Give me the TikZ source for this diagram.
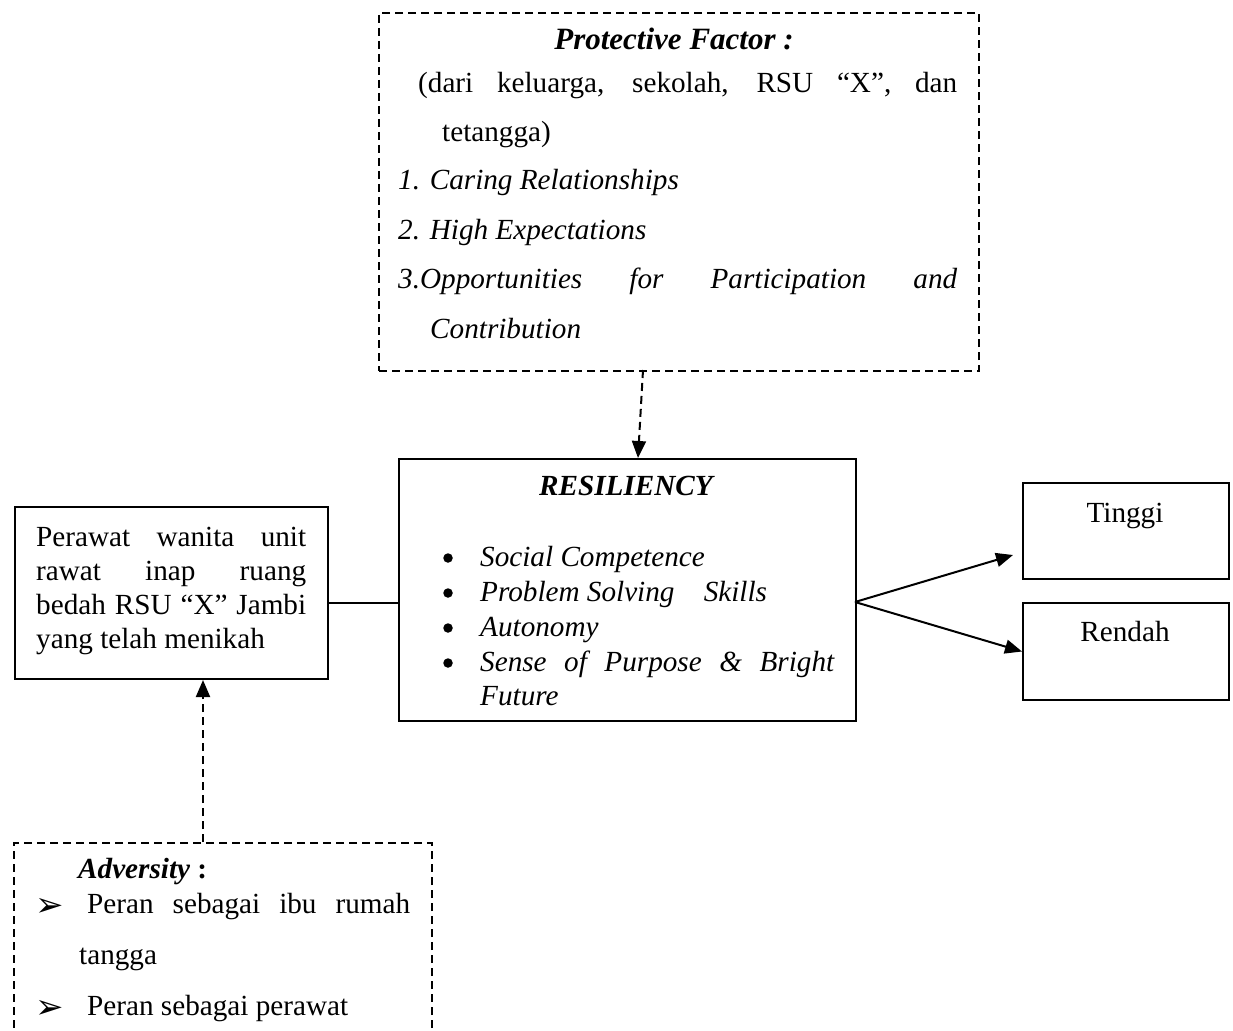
\documentclass[tikz,border=0pt]{standalone}
\usepackage{fontspec}
\setmainfont{Liberation Serif}
\newfontfamily\dejavu{DejaVu Sans}
\usetikzlibrary{arrows.meta}
\tikzset{
  box/.style={draw, line width=2pt, rectangle, inner sep=0pt, anchor=north west},
  dashbox/.style={box, dash pattern=on 8pt off 5pt},
  txt/.style={anchor=base west, inner sep=0pt, font=\fontsize{29.2}{34}\selectfont},
  bul/.style={circle, fill, inner sep=0pt, minimum size=9.5pt},
  conn/.style={line width=2pt},
  tip/.style={-{Triangle[length=17pt,width=14pt]}},
  dconn/.style={conn, tip, dash pattern=on 8pt off 5pt}
}
\begin{document}
\begin{tikzpicture}[x=1pt,y=-1pt]
\useasboundingbox (0,0) rectangle (1233,1030);
\clip (0,0) rectangle (1233,1030);
% boxes
\node[dashbox, minimum width=600, minimum height=358] (prot) at (378,12) {};
\node[box, minimum width=457, minimum height=262] (res) at (398,458) {};
\node[box, minimum width=313, minimum height=172] (subj) at (14,506) {};
\node[box, minimum width=206, minimum height=96] (tinggi) at (1022,482) {};
\node[box, minimum width=206, minimum height=97] (rendah) at (1022,602) {};
\node[dashbox, minimum width=418, minimum height=300] (adv) at (13,842) {};
% protective text
\node[txt, anchor=base] (pt) at (674,50) {\fontsize{31}{36}\selectfont\bfseries\itshape Protective Factor :};
\node[txt] (p1) at (418,93) {\makebox[539pt][s]{(dari keluarga, sekolah, RSU “X”, dan}};
\node[txt] (p2) at (442,141) {tetangga)};
\node[txt] (p3) at (398,189) {\itshape 1. Caring Relationships};
\node[txt] (p4) at (398,239) {\itshape 2. High Expectations};
\node[txt] (p5) at (398,288) {\itshape\makebox[559pt][s]{3.Opportunities for Participation and}};
\node[txt] (p6) at (430,338) {\itshape Contribution};
% resiliency text
\node[txt, anchor=base] (rt) at (626,495) {\bfseries\itshape RESILIENCY};
\node[bul] (r1) at (448,558) {};
\node[txt] (r1t) at (480,566) {\itshape Social Competence};
\node[bul] (r2) at (448,593) {};
\node[txt] (r2t) at (480,601) {\itshape Problem Solving\hspace{0.75em} Skills};
\node[bul] (r3) at (448,628) {};
\node[txt] (r3t) at (480,636) {\itshape Autonomy};
\node[bul] (r4) at (448,663) {};
\node[txt] (r4t) at (480,671) {\itshape\makebox[354pt][s]{Sense of Purpose \& Bright}};
\node[txt] (r5t) at (480,705) {\itshape Future};
% subject text
\node[txt] (s1) at (36,546) {\makebox[270pt][s]{Perawat wanita unit}};
\node[txt] (s2) at (36,580) {\makebox[270pt][s]{rawat inap ruang}};
\node[txt] (s3) at (36,614) {\makebox[270pt][s]{bedah RSU “X” Jambi}};
\node[txt] (s4) at (36,648) {yang telah menikah};
% outcome text
\node[txt, anchor=base] (tt) at (1125,522) {Tinggi};
\node[txt, anchor=base] (rdt) at (1125,641) {Rendah};
% adversity text
\node[txt] (at) at (78,878) {\bfseries{\itshape Adversity} :};
\node[txt] (ab1) at (35,916) {\dejavu\fontsize{34}{40}\selectfont ➢};
\node[txt] (a1) at (87,913) {\makebox[323pt][s]{Peran sebagai ibu rumah}};
\node[txt] (a2) at (79,964) {tangga};
\node[txt] (ab2) at (35,1018) {\dejavu\fontsize{34}{40}\selectfont ➢};
\node[txt] (a3) at (87,1015) {Peran sebagai perawat};
% connectors
\coordinate (j1) at (327,603);
\draw[conn] (j1) -- (j1 -| res.west);
\coordinate (fork) at (855,602);
\coordinate (ttip) at (1013,555);
\draw[conn, tip] (fork) -- (ttip);
\draw[conn, tip] (fork) -- (rendah.west);
\coordinate (pdown) at (643,370);
\coordinate (pend) at (638,458);
\draw[dconn] (pdown) -- (pend);
\coordinate (aup) at (203,842);
\draw[dconn] (aup) -- (aup |- subj.south);
\end{tikzpicture}
\end{document}
